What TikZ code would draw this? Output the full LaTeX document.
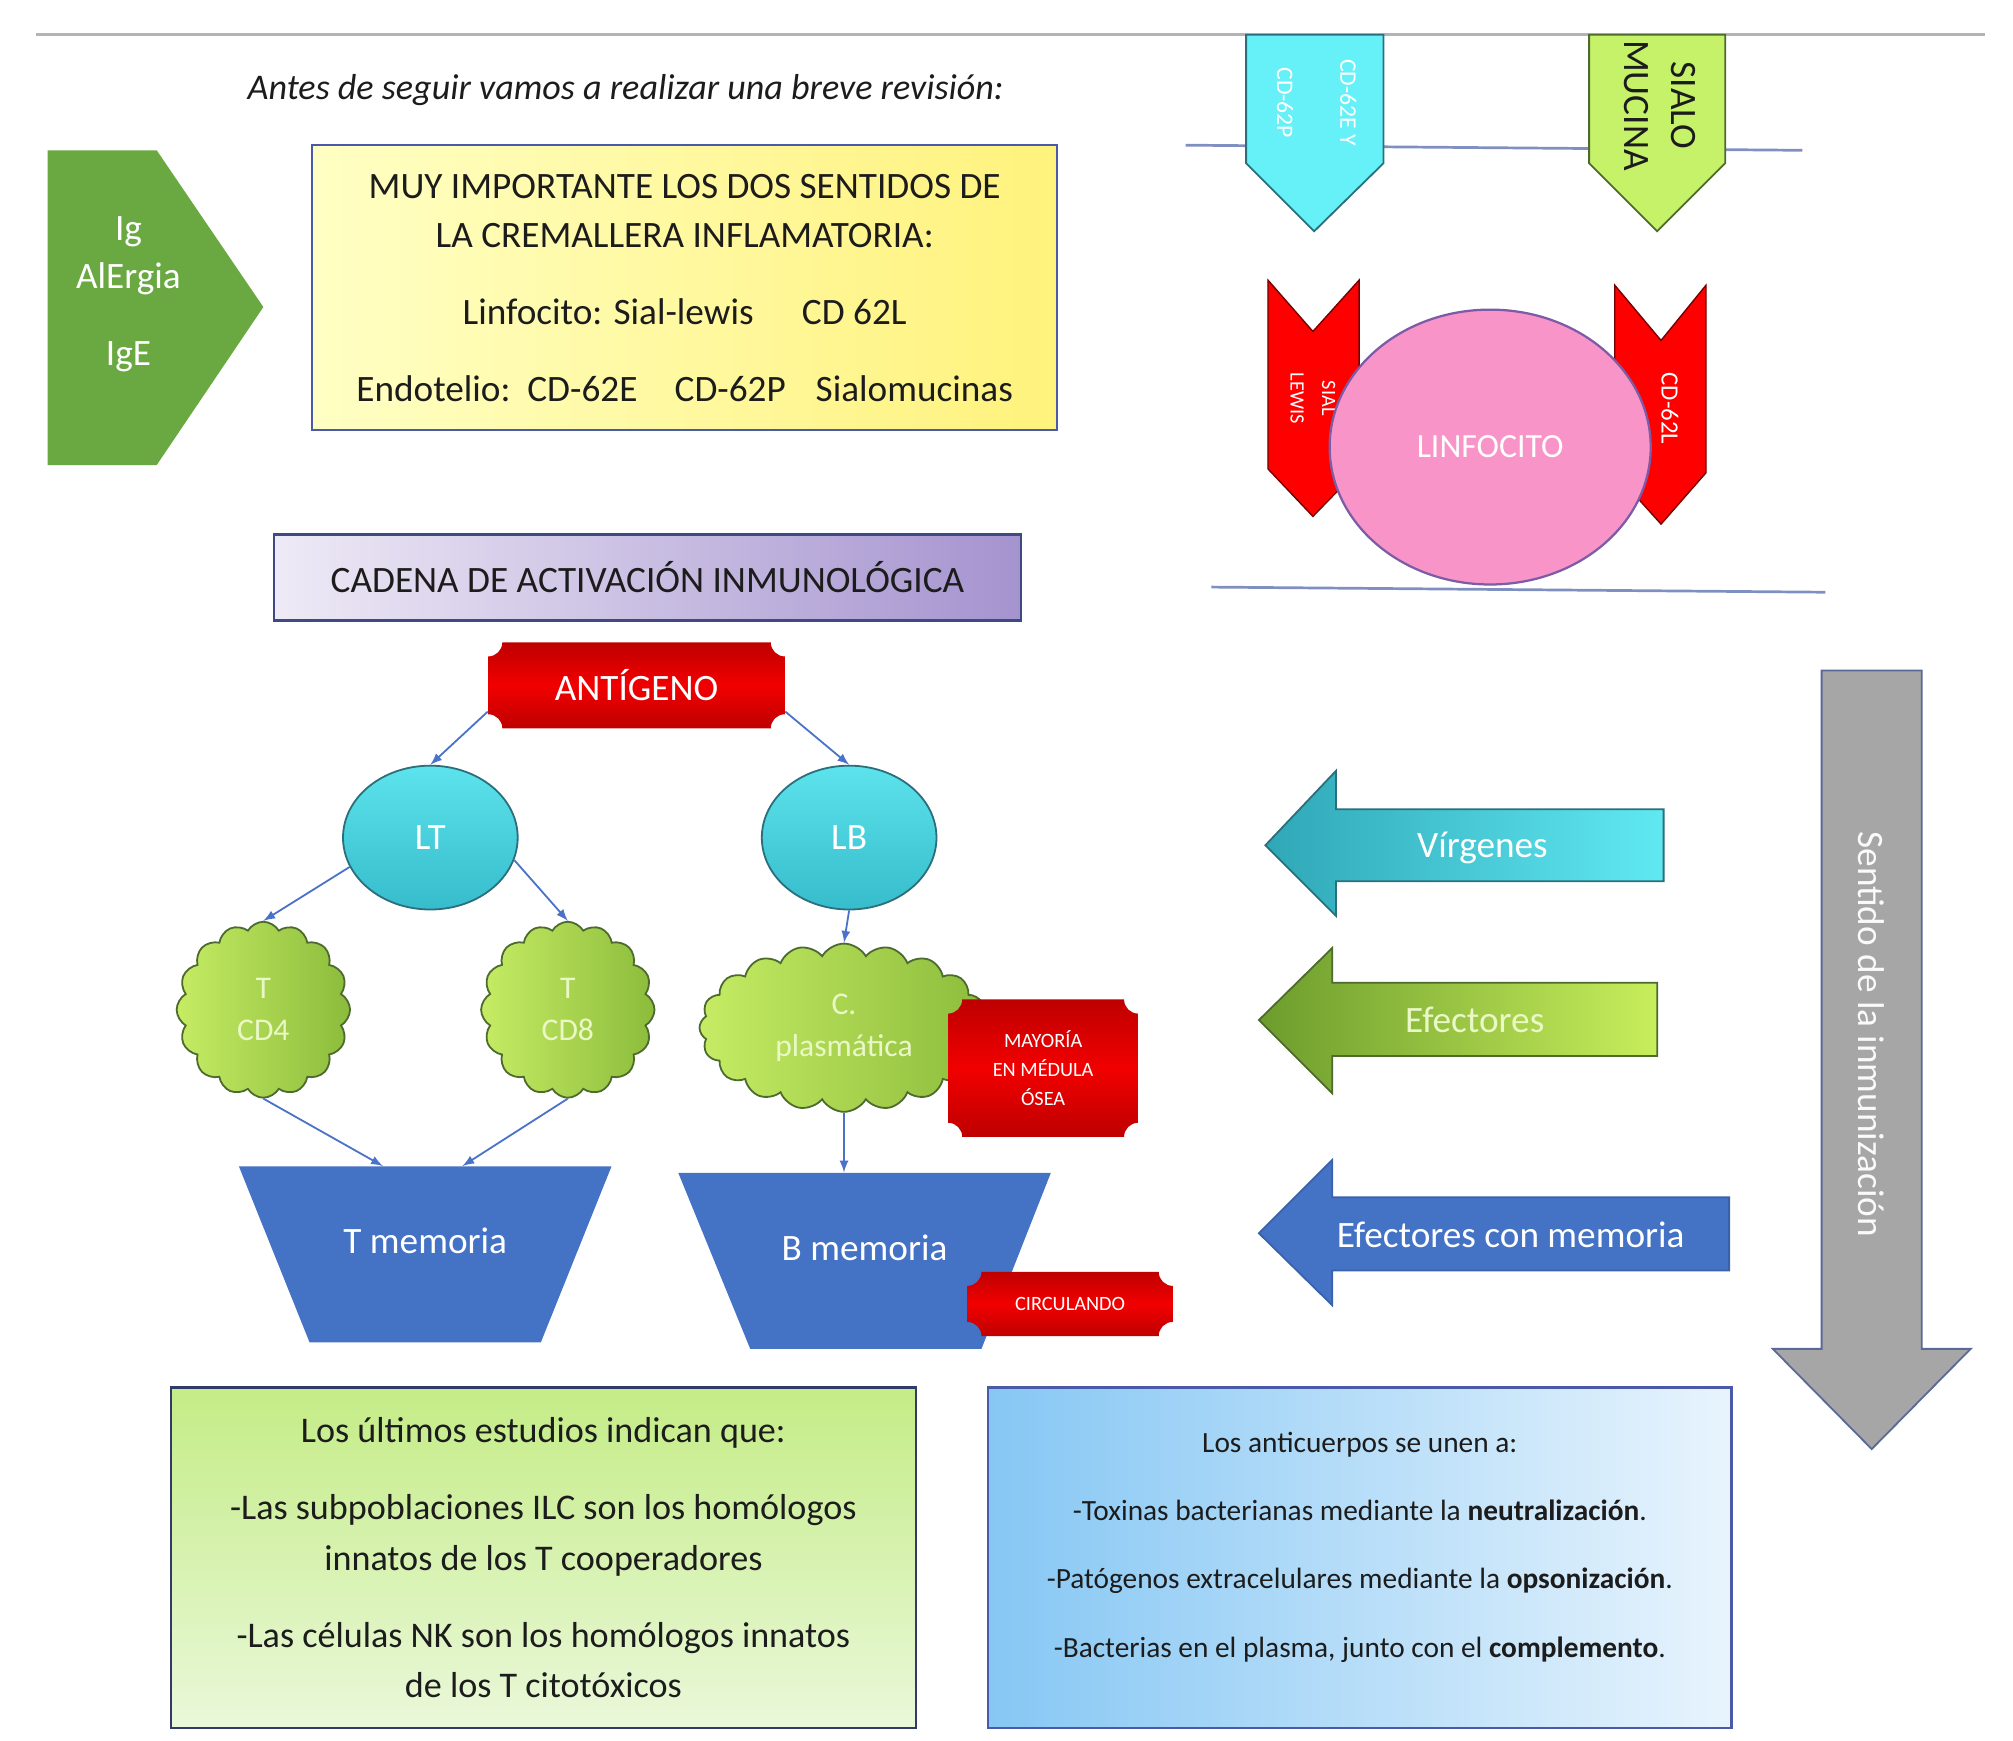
\documentclass[tikz,border=0pt]{standalone}
\usepackage{fontspec}
\setmainfont{Carlito}
\usetikzlibrary{shapes.geometric,shapes.symbols}

\definecolor{lineaGris}{HTML}{B4B4B4}
\definecolor{igVerde}{HTML}{6AA842}
\definecolor{amarilloA}{HTML}{FFFFC4}
\definecolor{amarilloB}{HTML}{FFF27C}
\definecolor{bordeAzul}{HTML}{4A5AA8}
\definecolor{lilaA}{HTML}{EEEAF6}
\definecolor{lilaB}{HTML}{A593CF}
\definecolor{bordeLila}{HTML}{3E4A82}
\definecolor{rojoOsc}{HTML}{BE0000}
\definecolor{rojoVivo}{HTML}{F20000}
\definecolor{cianA}{HTML}{5CE3EC}
\definecolor{cianB}{HTML}{36BCCB}
\definecolor{bordeCian}{HTML}{2B6F7C}
\definecolor{nubeA}{HTML}{C6EC64}
\definecolor{nubeB}{HTML}{8CBC3C}
\definecolor{bordeNube}{HTML}{4D6B2E}
\definecolor{textoNube}{HTML}{EAF8C6}
\definecolor{azulMem}{HTML}{4472C4}
\definecolor{bordeMem}{HTML}{3A62AC}
\definecolor{flecha}{HTML}{4A72C8}
\definecolor{virgA}{HTML}{2FA7B7}
\definecolor{virgB}{HTML}{60E9F2}
\definecolor{efecA}{HTML}{6C9C2C}
\definecolor{efecB}{HTML}{C8EE5C}
\definecolor{gris}{HTML}{A6A6A6}
\definecolor{bordeGris}{HTML}{5A6A98}
\definecolor{verdeA}{HTML}{C4EC86}
\definecolor{verdeB}{HTML}{EAF8DA}
\definecolor{celesteA}{HTML}{86C7F4}
\definecolor{celesteB}{HTML}{E8F4FD}
\definecolor{rosa}{HTML}{F894C8}
\definecolor{bordeRosa}{HTML}{7C5CA6}
\definecolor{selectina}{HTML}{66F1F8}
\definecolor{mucina}{HTML}{C6F26A}
\definecolor{membrana}{HTML}{7F8FC0}
\definecolor{tinta}{HTML}{1C1C1C}

\newcommand{\plaquer}{0.22cm}

\tikzset{
  grande/.style={font=\fontsize{16.5}{21.6}\selectfont},
  recuadro/.style={draw, line width=1pt, align=center, text=tinta, inner sep=0pt},
  celula/.style={ellipse, draw=bordeCian, line width=0.8pt, top color=cianA, bottom color=cianB, text=white, grande},
  nube/.style={cloud, cloud puffs=16, cloud puff arc=120, aspect=1, draw=bordeNube, line width=0.8pt,
    left color=nubeA, right color=nubeB, text=textoNube, align=center, inner sep=0pt,
    font=\fontsize{14}{18.8}\selectfont},
  conn/.style={->, draw=flecha, line width=0.8pt},
  memtext/.style={text=white, grande, text height=0.45cm, text depth=0.47cm},
  plaque/.style={inner sep=0pt, text=white, align=center,
    path picture={
      \shade[top color=rojoOsc, bottom color=rojoOsc, middle color=rojoVivo]
        ([xshift=\plaquer]path picture bounding box.north west)
        -- ([xshift=-\plaquer]path picture bounding box.north east)
        arc[start angle=180, end angle=270, radius=\plaquer]
        -- ([yshift=\plaquer]path picture bounding box.south east)
        arc[start angle=90, end angle=180, radius=\plaquer]
        -- ([xshift=\plaquer]path picture bounding box.south west)
        arc[start angle=0, end angle=90, radius=\plaquer]
        -- ([yshift=-\plaquer]path picture bounding box.north west)
        arc[start angle=270, end angle=360, radius=\plaquer]
        -- cycle;
    }},
}

\begin{document}
\begin{tikzpicture}[x=0.02cm, y=0.02cm, >=latex]
\useasboundingbox (0,0) rectangle (1567,-1354.5);

% cabecera
\draw[lineaGris, line width=1.5pt] (28,-27) -- (1545,-27);
\node[font=\fontsize{16}{19}\selectfont\itshape, text=tinta] (titulo) at (487,-70) {Antes de seguir vamos a realizar una breve revisión:};

% flecha Ig
\fill[igVerde] (37,-117) -- (122,-117) -- (205,-239) -- (122,-362) -- (37,-362) -- cycle;
\node[text=white, grande, align=center] (ig) at (100,-229) {Ig\\AlErgia\\[12.5pt]IgE};

\node[recuadro, draw=bordeAzul, left color=amarilloA, right color=amarilloB, grande,
  minimum width=11.6cm, minimum height=4.44cm] (cremallera) at (533,-224)
  {MUY IMPORTANTE LOS DOS SENTIDOS DE\\LA CREMALLERA INFLAMATORIA:\\[12.5pt]Linfocito: Sial-lewis\hspace{1.3em}CD 62L\\[12.5pt]Endotelio:\ \ CD-62E\hspace{1em}CD-62P\hspace{0.8em}Sialomucinas};

% endotelio y linfocito
\draw[membrana, line width=1.2pt] (923,-113) -- (1403,-117);
\draw[membrana, line width=1.2pt] (943,-457) -- (1421,-461);
\filldraw[fill=selectina, draw=bordeCian, line width=0.8pt] (970,-27) -- (1077,-27) -- (1077,-127) -- (1023,-180) -- (970,-127) -- cycle;
\node[rotate=-90, text=white, align=center, font=\fontsize{10.5}{13}\selectfont] (selectinas) at (1025,-80) {CD-62E Y\\[15pt]CD-62P};
\filldraw[fill=mucina, draw=bordeNube, line width=0.8pt] (1237,-27) -- (1343,-27) -- (1343,-127) -- (1290,-180) -- (1237,-127) -- cycle;
\node[rotate=-90, text=tinta, align=center, font=\fontsize{16.5}{21}\selectfont] (sialomucina) at (1292,-82) {SIALO\\MUCINA};
\filldraw[fill=red, draw=red!45!black, line width=0.6pt] (987,-218) -- (1022,-258) -- (1058,-218) -- (1058,-365) -- (1022,-402) -- (987,-365) -- cycle;
\node[rotate=-90, text=white, align=center, font=\fontsize{9}{14}\selectfont] (siallewis) at (1022,-310) {SIAL\\LEWIS};
\filldraw[fill=red, draw=red!45!black, line width=0.6pt] (1257,-222) -- (1293,-265) -- (1328,-222) -- (1328,-368) -- (1293,-408) -- (1257,-368) -- cycle;
\node[rotate=-90, text=white, font=\fontsize{11}{13}\selectfont] (cdl) at (1300,-318) {CD-62L};
\node[ellipse, draw=bordeRosa, line width=1pt, fill=rosa, text=white, minimum width=5cm, minimum height=4.28cm,
  font=\fontsize{15}{18}\selectfont] (linfocito) at (1160,-348) {LINFOCITO};

% cadena de activacion
\node[recuadro, draw=bordeLila, left color=lilaA, right color=lilaB, grande,
  minimum width=11.64cm, minimum height=1.34cm] (cadena) at (504,-449.5) {CADENA DE ACTIVACIÓN INMUNOLÓGICA};
\node[plaque, grande, minimum width=4.62cm, minimum height=1.34cm] (antigeno) at (495.5,-533.5) {ANTÍGENO};
\node[celula, minimum width=2.72cm, minimum height=2.24cm] (lt) at (335,-652) {LT};
\node[celula, minimum width=2.72cm, minimum height=2.24cm] (lb) at (661,-652) {LB};
\node[nube, minimum width=2.7cm, minimum height=2.74cm] (cd4) at (205,-786) {T\\CD4};
\node[nube, minimum width=2.7cm, minimum height=2.74cm] (cd8) at (442,-786) {T\\CD8};
\node[nube, cloud puffs=20, aspect=1.7, minimum width=4.5cm, minimum height=2.62cm] (plasm) at (657,-800) {C.\\plasmática};
\node[plaque, minimum width=2.96cm, minimum height=2.14cm, font=\fontsize{9}{12.8}\selectfont] (medula) at (812,-831.5) {MAYORÍA\\EN MÉDULA\\ÓSEA};

\fill[azulMem] (186,-908) -- (476,-908) -- (421,-1045) -- (241,-1045) -- cycle;
\node[memtext, minimum width=5.8cm, minimum height=2.74cm] (tmem) at (331,-976.5) {T memoria};
\fill[azulMem] (528,-913) -- (818,-913) -- (764,-1050) -- (584,-1050) -- cycle;
\node[memtext, minimum width=5.8cm, minimum height=2.74cm] (bmem) at (673,-981.5) {B memoria};
\node[plaque, minimum width=3.2cm, minimum height=1cm, font=\fontsize{9}{11}\selectfont] (circulando) at (833,-1015) {CIRCULANDO};

\draw[conn] (antigeno.190) -- (lt.north);
\draw[conn] (antigeno.-10) -- (lb.north);
\draw[conn] (lt.200) -- (cd4.north);
\draw[conn] (lt.-15) -- (cd8.north);
\draw[conn] (lb.south) -- (plasm.north);
\draw[conn] (cd4.south) -- ([xshift=-0.66cm]tmem.north);
\draw[conn] (cd8.south) -- ([xshift=0.58cm]tmem.north);
\draw[conn] (plasm.south) -- (plasm.south |- bmem.north);

% flechas de la derecha
\shade[left color=virgA, right color=virgB, draw=bordeCian, line width=0.8pt] (985,-658) -- (1040,-600) -- (1040,-630) -- (1295,-630) -- (1295,-686) -- (1040,-686) -- (1040,-713) -- cycle;
\node[text=white, grande] (virgenes) at (1154,-660) {Vírgenes};
\shade[left color=efecA, right color=efecB, draw=bordeNube, line width=0.8pt] (980,-794) -- (1037,-738) -- (1037,-765) -- (1290,-765) -- (1290,-822) -- (1037,-822) -- (1037,-851) -- cycle;
\node[text=textoNube, grande] (efectores) at (1148,-794) {Efectores};
\filldraw[fill=azulMem, draw=bordeMem, line width=0.8pt] (980,-960) -- (1037,-903) -- (1037,-932) -- (1346,-932) -- (1346,-989) -- (1037,-989) -- (1037,-1016) -- cycle;
\node[text=white, grande] (efmemoria) at (1176,-961) {Efectores con memoria};
\filldraw[fill=gris, draw=bordeGris, line width=0.8pt] (1418,-522) -- (1496,-522) -- (1496,-1050) -- (1534,-1050) -- (1457,-1128) -- (1380,-1050) -- (1418,-1050) -- cycle;
\node[rotate=-90, text=white!94!gris, grande] (sentido) at (1457,-805) {Sentido de la inmunización};

% recuadros inferiores
\node[recuadro, draw=bordeLila!80!black, top color=verdeA, bottom color=verdeB, font=\fontsize{16}{22.2}\selectfont,
  minimum width=11.6cm, minimum height=5.3cm] (estudios) at (423,-1212.5)
  {Los últimos estudios indican que:\\[12pt]-Las subpoblaciones ILC son los homólogos\\innatos de los T cooperadores\\[12pt]-Las células NK son los homólogos innatos\\de los T citotóxicos};
\node[recuadro, draw=bordeAzul, left color=celesteA, right color=celesteB, font=\fontsize{13}{30.2}\selectfont,
  minimum width=11.58cm, minimum height=5.3cm] (anticuerpos) at (1058.5,-1212.5)
  {Los anticuerpos se unen a:\\-Toxinas bacterianas mediante la \textbf{neutralización}.\\-Patógenos extracelulares mediante la \textbf{opsonización}.\\-Bacterias en el plasma, junto con el \textbf{complemento}.\\[-18.8pt]\mbox{}};
\end{tikzpicture}
\end{document}
